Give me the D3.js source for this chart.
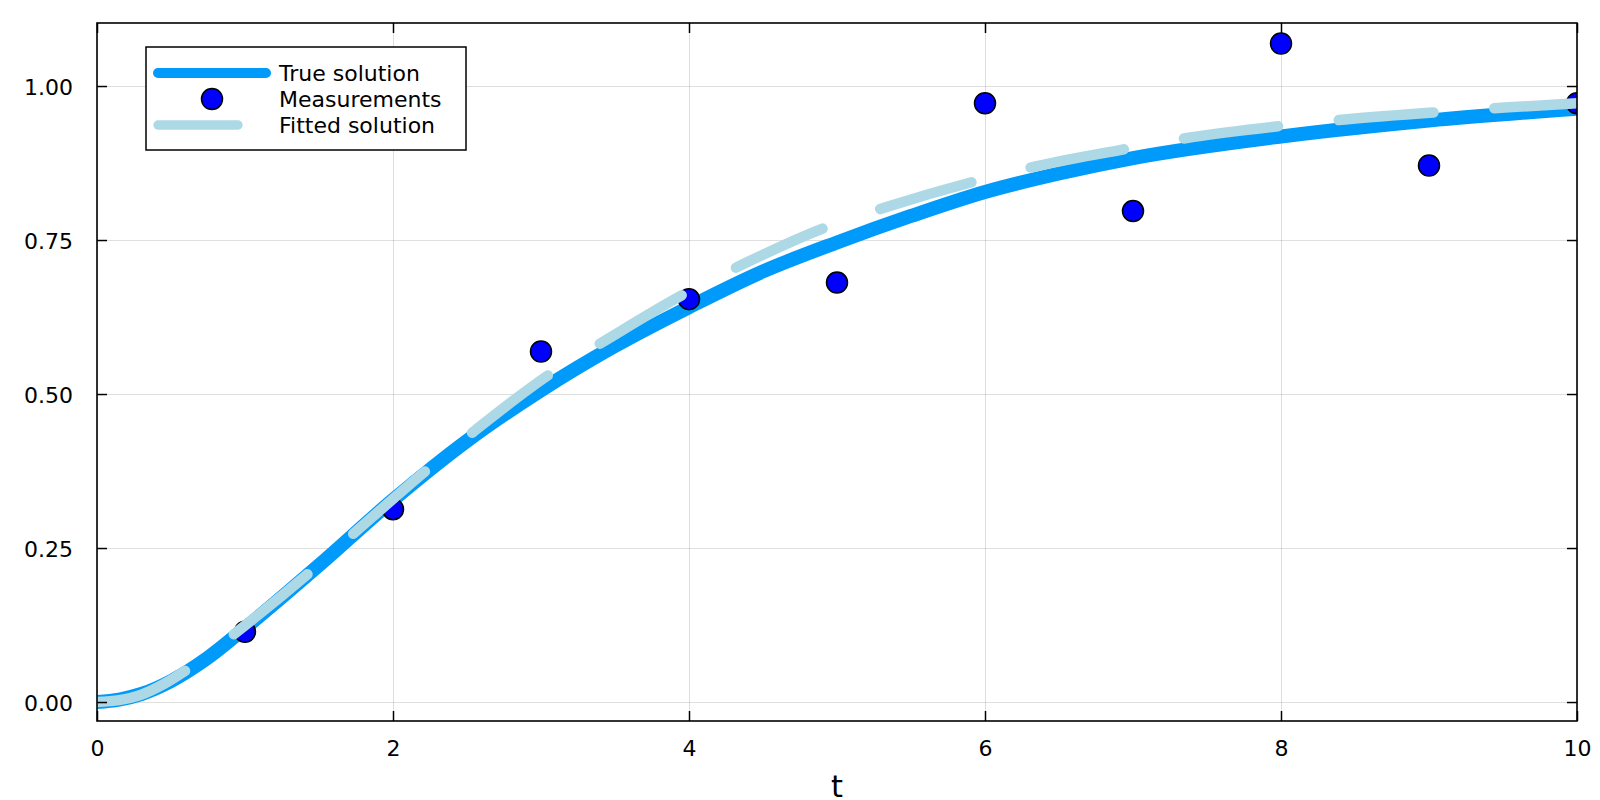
<!DOCTYPE html>
<html>
<head>
<meta charset="utf-8">
<script src="https://cdn.jsdelivr.net/npm/d3@7"></script>
<style>
  html, body { margin: 0; padding: 0; background: #fff; }
  svg { display: block; font-family: "DejaVu Sans", sans-serif; }
  .tick text { font-size: 22px; fill: #000; }
  .frame-axis .tick line { stroke: #000; stroke-width: 1.5; }
  .grid .tick line { stroke: #000; stroke-opacity: 0.13; stroke-width: 1; }
  .grid .domain, .frame-axis .domain { display: none; }
</style>
</head>
<body>
<div id="chart"></div>
<script>
// true solution
const trueT = [0, 0.15, 0.3, 0.5, 0.75, 1, 1.5, 2, 2.5, 3, 3.5, 4, 4.5, 5, 5.5, 6, 6.5, 7, 8, 9, 10];
const trueY = [0, 0.004, 0.013, 0.034, 0.072, 0.12, 0.222, 0.328, 0.424, 0.506, 0.578, 0.641, 0.699, 0.746, 0.789, 0.828, 0.858, 0.883, 0.918, 0.944, 0.963];

// noisy measurements
const measT = [1, 2, 3, 4, 5, 6, 7, 8, 9, 10];
const measY = [0.114, 0.313, 0.569, 0.654, 0.681, 0.972, 0.797, 1.069, 0.871, 0.972];

// fitted solution
const fitT = [0, 0.15, 0.3, 0.45, 0.61, 0.93, 1.44, 1.75, 2.23, 2.56, 3.07, 3.42, 3.98, 4.35, 4.94, 5.34, 5.96, 6.35, 6.98, 7.4, 8.03, 8.45, 9.09, 9.51, 10];
const fitY = [0, 0.003, 0.012, 0.029, 0.053, 0.111, 0.211, 0.277, 0.377, 0.442, 0.534, 0.585, 0.664, 0.709, 0.772, 0.804, 0.847, 0.870, 0.899, 0.917, 0.936, 0.946, 0.958, 0.965, 0.972];

const xTicks = [0, 2, 4, 6, 8, 10];
const yTicks = [0, 0.25, 0.5, 0.75, 1.0];
const xLims = [0, 10];
const yLims = [-0.0308, 1.1023];
const legendNames = ['True solution', 'Measurements', 'Fitted solution'];
const xLabel = 't';

const W = 1600, H = 800;
const margin = {t: 23, r: 23, b: 79, l: 97};
const w = W - margin.l - margin.r;
const h = H - margin.t - margin.b;

const svg = d3.select('#chart').append('svg')
  .attr('width', W)
  .attr('height', H);

const plot = svg.append('g')
  .attr('transform', `translate(${margin.l},${margin.t})`);

const scaleX = d3.scaleLinear().domain(xLims).range([0, w]);
const scaleY = d3.scaleLinear().domain(yLims).range([h, 0]);

svg.append('defs').append('clipPath').attr('id', 'clip')
  .append('rect').attr('width', w).attr('height', h);

////////////////////////////////////////////////////////////////////
// grid

plot.append('g').attr('class', 'grid')
  .attr('transform', `translate(0,${h})`)
  .call(d3.axisBottom(scaleX).tickValues(xTicks).tickSize(-h).tickFormat(''));
plot.append('g').attr('class', 'grid')
  .call(d3.axisLeft(scaleY).tickValues(yTicks).tickSize(-w).tickFormat(''));

////////////////////////////////////////////////////////////////////
// series

const series = plot.append('g').attr('clip-path', 'url(#clip)');

const line = d3.line()
  .x(d => scaleX(d[0]))
  .y(d => scaleY(d[1]))
  .curve(d3.curveMonotoneX);

series.append('path')
  .datum(d3.zip(trueT, trueY))
  .attr('d', line)
  .attr('fill', 'none')
  .attr('stroke', '#009AFA')
  .attr('stroke-width', 14);

series.selectAll('.meas')
  .data(d3.zip(measT, measY))
  .enter().append('circle')
  .attr('class', 'meas')
  .attr('cx', d => scaleX(d[0]))
  .attr('cy', d => scaleY(d[1]))
  .attr('r', 10.5)
  .attr('fill', '#0000FF')
  .attr('stroke', '#000')
  .attr('stroke-width', 1.5);

series.append('path')
  .datum(d3.zip(fitT, fitY))
  .attr('d', line)
  .attr('fill', 'none')
  .attr('stroke', '#ADD8E6')
  .attr('stroke-width', 10.5)
  .attr('stroke-linecap', 'round')
  .attr('stroke-dasharray', '95,61');

////////////////////////////////////////////////////////////////////
// frame + axes (ticks point inward)

plot.append('rect')
  .attr('width', w).attr('height', h)
  .attr('fill', 'none').attr('stroke', '#000').attr('stroke-width', 1.6);

plot.append('g').attr('class', 'frame-axis')
  .attr('transform', `translate(0,${h})`)
  .call(d3.axisBottom(scaleX).tickValues(xTicks).tickSize(-10).tickPadding(19).tickFormat(d3.format('d')));
plot.append('g').attr('class', 'frame-axis')
  .call(d3.axisTop(scaleX).tickValues(xTicks).tickSize(-10).tickFormat(''));
plot.append('g').attr('class', 'frame-axis')
  .call(d3.axisLeft(scaleY).tickValues(yTicks).tickSize(-10).tickPadding(24).tickFormat(d3.format('.2f')))
  .selectAll('text').attr('dy', '0.38em');
plot.append('g').attr('class', 'frame-axis')
  .attr('transform', `translate(${w},0)`)
  .call(d3.axisRight(scaleY).tickValues(yTicks).tickSize(-10).tickFormat(''));

svg.selectAll('.frame-axis text').attr('font-family', '"DejaVu Sans", sans-serif');

svg.append('text')
  .attr('x', margin.l + w / 2)
  .attr('y', 797)
  .attr('text-anchor', 'middle')
  .attr('font-size', 30.5)
  .text(xLabel);

////////////////////////////////////////////////////////////////////
// legend

const legend = svg.append('g').attr('transform', 'translate(146,47)');
legend.append('rect')
  .attr('width', 320).attr('height', 103)
  .attr('fill', '#fff').attr('stroke', '#000').attr('stroke-width', 1.5);

const rowY = i => 26 + i * 26;

legend.append('line')
  .attr('x1', 12).attr('x2', 120).attr('y1', rowY(0)).attr('y2', rowY(0))
  .attr('stroke', '#009AFA').attr('stroke-width', 10).attr('stroke-linecap', 'round');
legend.append('circle')
  .attr('cx', 66).attr('cy', rowY(1)).attr('r', 10.5)
  .attr('fill', '#0000FF').attr('stroke', '#000').attr('stroke-width', 1.5);
legend.append('line')
  .attr('x1', 12).attr('x2', 120).attr('y1', rowY(2)).attr('y2', rowY(2))
  .attr('stroke', '#ADD8E6').attr('stroke-width', 9.3).attr('stroke-linecap', 'round')
  .attr('stroke-dasharray', '80,53');

legend.selectAll('.ltext')
  .data(legendNames)
  .enter().append('text')
  .attr('class', 'ltext')
  .attr('x', 133)
  .attr('y', (d, i) => rowY(i))
  .attr('dy', '0.36em')
  .attr('font-size', 22)
  .text(d => d);
</script>
</body>
</html>
